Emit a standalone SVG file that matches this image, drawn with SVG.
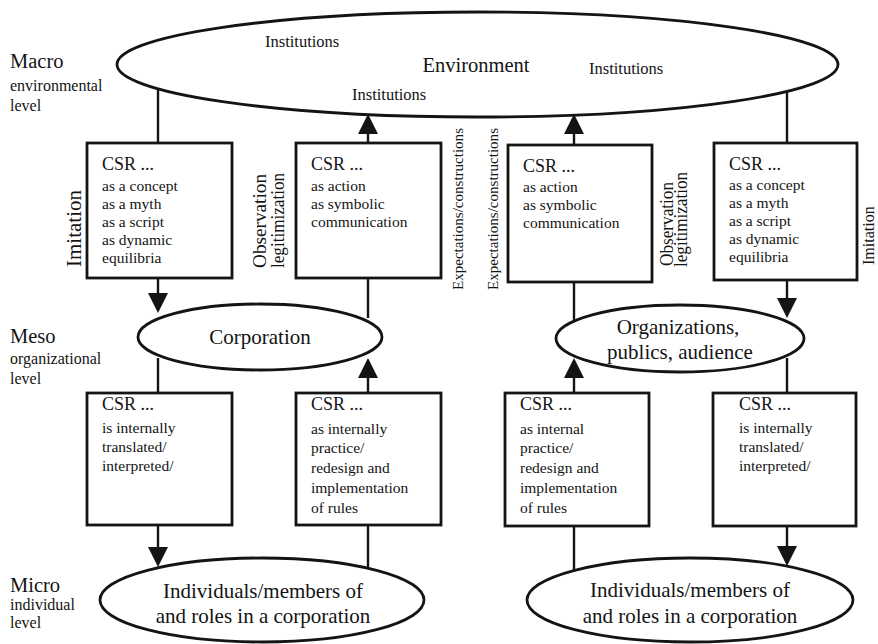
<svg xmlns="http://www.w3.org/2000/svg" width="878" height="644" viewBox="0 0 878 644" font-family="'Liberation Serif', 'DejaVu Serif', serif">
  <style>
    text { font-family: "Liberation Serif", "DejaVu Serif", serif; fill: #141414; }
    .shape { fill: #ffffff; stroke: #141414; stroke-width: 2.8; }
    .wire { stroke: #141414; stroke-width: 2.4; fill: none; }
    .lvl { font-size: 20.5px; }
    .lvls { font-size: 16px; }
    .csr { font-size: 18px; }
    .item { font-size: 15.5px; }
    .big { font-size: 21px; text-anchor: middle; }
    .inst { font-size: 16.5px; }
    .side { font-size: 18px; }
    .exp { font-size: 15px; }
  </style>
  <defs>
    <marker id="head" viewBox="0 0 20 20" markerUnits="userSpaceOnUse" markerWidth="20" markerHeight="20" refX="10" refY="10" orient="auto">
      <path d="M0,0 L20,10 L0,20 Z" fill="#141414"/>
    </marker>
  </defs>

  <rect width="878" height="644" fill="#ffffff"/>

  <!-- level labels -->
  <g id="levels">
    <text class="lvl" x="10" y="68">Macro</text>
    <text class="lvls" x="10" y="91">environmental</text>
    <text class="lvls" x="10" y="111">level</text>
    <text class="lvl" x="10" y="343">Meso</text>
    <text class="lvls" x="10" y="364">organizational</text>
    <text class="lvls" x="10" y="384">level</text>
    <text class="lvl" x="10" y="592">Micro</text>
    <text class="lvls" x="10" y="610">individual</text>
    <text class="lvls" x="10" y="628">level</text>
  </g>

  <!-- connectors -->
  <g id="connectors" class="wire">
    <line x1="158" y1="89" x2="158" y2="143"/>
    <line x1="368" y1="143" x2="368" y2="124" marker-end="url(#head)"/>
    <line x1="574" y1="145" x2="574" y2="124" marker-end="url(#head)"/>
    <line x1="787" y1="91" x2="787" y2="143"/>
    <line x1="158" y1="278" x2="158" y2="303" marker-end="url(#head)"/>
    <line x1="368" y1="278" x2="368" y2="318"/>
    <line x1="574" y1="282" x2="574" y2="320"/>
    <line x1="787" y1="280" x2="787" y2="308" marker-end="url(#head)"/>
    <line x1="158" y1="358" x2="158" y2="393"/>
    <line x1="368" y1="393" x2="368" y2="368" marker-end="url(#head)"/>
    <line x1="574" y1="393" x2="574" y2="368" marker-end="url(#head)"/>
    <line x1="787" y1="358" x2="787" y2="393"/>
    <line x1="158" y1="525" x2="158" y2="557" marker-end="url(#head)"/>
    <line x1="368" y1="525" x2="368" y2="569"/>
    <line x1="574" y1="526" x2="574" y2="571"/>
    <line x1="787" y1="526" x2="787" y2="556" marker-end="url(#head)"/>
  </g>

  <!-- macro level -->
  <g id="environment">
    <ellipse class="shape" cx="477.5" cy="64.5" rx="360.5" ry="52.5"/>
    <text class="big" x="476" y="72" style="font-size:20.5px">Environment</text>
    <text class="inst" x="265" y="47">Institutions</text>
    <text class="inst" x="352" y="100">Institutions</text>
    <text class="inst" x="589" y="74">Institutions</text>
  </g>

  <g id="csr-concept-left">
    <rect class="shape" x="87" y="143" width="145" height="135"/>
    <text class="csr" x="102" y="170">CSR ...</text>
    <text class="item" x="102" y="191">as a concept</text>
    <text class="item" x="102" y="209">as a myth</text>
    <text class="item" x="102" y="227">as a script</text>
    <text class="item" x="102" y="245">as dynamic</text>
    <text class="item" x="102" y="263">equilibria</text>
  </g>

  <g id="csr-action-left">
    <rect class="shape" x="296" y="143" width="145" height="135"/>
    <text class="csr" x="311" y="170">CSR ...</text>
    <text class="item" x="311" y="191">as action</text>
    <text class="item" x="311" y="209">as symbolic</text>
    <text class="item" x="311" y="227">communication</text>
  </g>

  <g id="csr-action-right">
    <rect class="shape" x="508" y="145" width="144" height="137"/>
    <text class="csr" x="523" y="172">CSR ...</text>
    <text class="item" x="523" y="192">as action</text>
    <text class="item" x="523" y="210">as symbolic</text>
    <text class="item" x="523" y="228">communication</text>
  </g>

  <g id="csr-concept-right">
    <rect class="shape" x="714" y="143" width="143" height="137"/>
    <text class="csr" x="729" y="170">CSR ...</text>
    <text class="item" x="729" y="190">as a concept</text>
    <text class="item" x="729" y="208">as a myth</text>
    <text class="item" x="729" y="226">as a script</text>
    <text class="item" x="729" y="244">as dynamic</text>
    <text class="item" x="729" y="262">equilibria</text>
  </g>

  <!-- vertical side labels -->
  <g id="side-labels">
    <text style="font-size:21px" transform="translate(81,267) rotate(-90)">Imitation</text>
    <text class="side" transform="translate(266,268) rotate(-90)" textLength="94" lengthAdjust="spacingAndGlyphs">Observation</text>
    <text class="side" transform="translate(284,268) rotate(-90)" textLength="95" lengthAdjust="spacingAndGlyphs">legitimization</text>
    <text class="exp" transform="translate(463,290) rotate(-90)" textLength="162" lengthAdjust="spacingAndGlyphs">Expectations/constructions</text>
    <text class="exp" transform="translate(498,290) rotate(-90)" textLength="162" lengthAdjust="spacingAndGlyphs">Expectations/constructions</text>
    <text class="side" transform="translate(673,266) rotate(-90)" textLength="84" lengthAdjust="spacingAndGlyphs">Observation</text>
    <text class="side" transform="translate(687,267) rotate(-90)" textLength="95" lengthAdjust="spacingAndGlyphs">legitimization</text>
    <text style="font-size:16px" transform="translate(874,265) rotate(-90)">Imitation</text>
  </g>

  <!-- meso level -->
  <g id="corporation">
    <ellipse class="shape" cx="260" cy="337" rx="122" ry="33"/>
    <text class="big" x="260" y="344">Corporation</text>
  </g>

  <g id="organizations">
    <ellipse class="shape" cx="680" cy="338.5" rx="124" ry="33.5"/>
    <text class="big" x="678" y="334">Organizations,</text>
    <text class="big" x="680" y="359">publics, audience</text>
  </g>

  <g id="csr-translated-left">
    <rect class="shape" x="87" y="393" width="145" height="132"/>
    <text class="csr" x="102" y="410">CSR ...</text>
    <text class="item" x="102" y="433">is internally</text>
    <text class="item" x="102" y="452">translated/</text>
    <text class="item" x="102" y="471">interpreted/</text>
  </g>

  <g id="csr-practice-left">
    <rect class="shape" x="296" y="393" width="145" height="132"/>
    <text class="csr" x="311" y="410">CSR ...</text>
    <text class="item" x="311" y="434">as internally</text>
    <text class="item" x="311" y="453">practice/</text>
    <text class="item" x="311" y="473">redesign and</text>
    <text class="item" x="311" y="493">implementation</text>
    <text class="item" x="311" y="513">of rules</text>
  </g>

  <g id="csr-practice-right">
    <rect class="shape" x="505" y="393" width="144" height="133"/>
    <text class="csr" x="520" y="410">CSR ...</text>
    <text class="item" x="520" y="434">as internal</text>
    <text class="item" x="520" y="453">practice/</text>
    <text class="item" x="520" y="473">redesign and</text>
    <text class="item" x="520" y="493">implementation</text>
    <text class="item" x="520" y="513">of rules</text>
  </g>

  <g id="csr-translated-right">
    <rect class="shape" x="713" y="393" width="143" height="133"/>
    <text class="csr" x="739" y="410">CSR ...</text>
    <text class="item" x="739" y="433">is internally</text>
    <text class="item" x="739" y="452">translated/</text>
    <text class="item" x="739" y="471">interpreted/</text>
  </g>

  <!-- micro level -->
  <g id="individuals-left">
    <ellipse class="shape" cx="262" cy="600" rx="162" ry="42"/>
    <text class="big" x="263" y="598">Individuals/members of</text>
    <text class="big" x="263" y="623">and roles in a corporation</text>
  </g>

  <g id="individuals-right">
    <ellipse class="shape" cx="690" cy="600" rx="163" ry="42"/>
    <text class="big" x="690" y="597">Individuals/members of</text>
    <text class="big" x="690" y="623">and roles in a corporation</text>
  </g>
</svg>
